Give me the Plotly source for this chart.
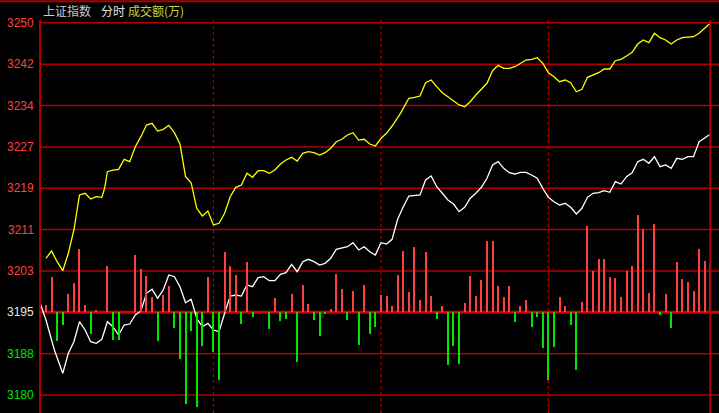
import plotly.graph_objects as go

# ---------------- data ----------------
# minutes since 9:30 for the white (index) line
white_min = [-2, 0, 3, 6, 8, 10, 12, 14, 16, 18, 20, 22, 24, 26, 28, 30, 32, 34, 36, 38,
             40, 42, 44, 46, 48, 50, 52, 54, 56, 58, 60, 62, 64, 66, 68, 70, 72, 74, 76, 78,
             80, 82, 84, 86, 88, 90, 92, 94, 96, 98, 100, 102, 104, 106, 108, 110, 112, 114,
             116, 118, 120, 122, 124, 125, 126, 128, 130, 134, 136, 138, 140, 142, 144, 146,
             148, 150, 152, 154, 156, 158, 160, 162, 164, 166, 168, 170, 172, 174, 176, 178,
             180, 182, 184, 186, 188, 190, 192, 194, 196, 198, 200, 202, 204, 206, 208, 210,
             212, 214, 216, 218, 220, 222, 224, 226, 228, 230, 232, 234, 236, 238]
white_val = [3196.97, 3193.95, 3188.29, 3183.89, 3187.67, 3189.85, 3193.63, 3192.06, 3189.85,
             3189.55, 3190.31, 3193.63, 3192.68, 3191.12, 3193.00, 3193.19, 3194.89, 3195.65,
             3198.98, 3199.74, 3198.04, 3199.61, 3202.44, 3202.12, 3200.23, 3197.21, 3197.85,
             3194.27, 3192.68, 3193.32, 3192.06, 3191.74, 3195.21, 3198.47, 3198.66, 3198.47,
             3200.55, 3200.23, 3201.93, 3202.12, 3201.36, 3201.36, 3202.57, 3202.87, 3204.45,
             3203.06, 3204.95, 3205.40, 3204.95, 3204.32, 3204.64, 3205.59, 3207.28, 3207.59,
             3207.77, 3208.53, 3207.15, 3207.77, 3206.83, 3206.21, 3208.53, 3208.28, 3209.17,
             3211.06, 3212.94, 3215.32, 3217.34, 3217.53, 3220.36, 3221.11, 3219.09, 3217.85,
             3216.58, 3215.83, 3214.38, 3215.21, 3216.91, 3217.85, 3218.98, 3220.68, 3223.19,
             3223.81, 3222.56, 3221.73, 3221.49, 3221.81, 3221.81, 3221.30, 3220.68, 3218.79,
             3217.09, 3216.26, 3215.64, 3215.96, 3215.21, 3213.94, 3215.02, 3217.09, 3217.85,
             3217.96, 3218.34, 3218.04, 3220.04, 3219.60, 3220.98, 3221.73, 3223.81, 3224.26,
             3223.51, 3224.75, 3222.87, 3223.19, 3222.56, 3224.45, 3224.26, 3224.75, 3224.75,
             3227.58, 3228.22, 3228.98]

# minutes since 9:30 for the yellow line
yellow_min = [0, 2, 4, 6, 8, 10, 12, 14, 16, 18, 20, 21, 22, 24, 26, 28, 30, 32, 34, 36, 38,
              40, 42, 44, 46, 48, 50, 52, 54, 56, 58, 60, 62, 64, 66, 68, 70, 72, 74, 76, 78,
              80, 82, 84, 86, 88, 90, 92, 94, 96, 98, 100, 102, 104, 106, 108, 110, 112, 114,
              116, 118, 120, 122, 124, 127, 130, 132, 134, 136, 138, 140, 142, 144, 146, 148,
              150, 152, 154, 156, 158, 160, 162, 164, 166, 168, 170, 172, 174, 176, 178, 180,
              182, 184, 186, 188, 190, 192, 194, 196, 198, 200, 202, 204, 206, 208, 210, 212,
              214, 216, 218, 220, 222, 224, 226, 228, 230, 232, 234, 236, 238]
yellow_val = [3205.59, 3206.96, 3204.95, 3203.25, 3206.53, 3210.93, 3217.53, 3217.85, 3216.77,
              3217.21, 3217.09, 3218.79, 3221.92, 3222.24, 3222.38, 3224.26, 3223.81, 3226.64,
              3228.53, 3230.73, 3231.05, 3229.60, 3229.92, 3230.68, 3229.28, 3227.15, 3220.98,
              3219.85, 3215.02, 3213.57, 3214.51, 3211.87, 3212.19, 3214.08, 3217.21, 3218.98,
              3219.41, 3221.62, 3220.87, 3222.11, 3222.11, 3221.62, 3222.24, 3223.38, 3224.13,
              3224.64, 3223.94, 3225.39, 3225.70, 3225.51, 3225.07, 3225.51, 3226.34, 3227.58,
              3228.04, 3228.85, 3229.28, 3227.90, 3228.04, 3227.15, 3226.77, 3228.20, 3229.17,
              3230.54, 3232.94, 3235.77, 3235.96, 3236.20, 3238.71, 3239.22, 3237.96, 3236.83,
              3236.07, 3235.32, 3234.51, 3234.18, 3235.13, 3236.39, 3237.47, 3238.60, 3240.98,
              3241.99, 3241.43, 3241.43, 3241.73, 3242.37, 3242.99, 3243.13, 3243.43, 3242.37,
              3240.60, 3239.84, 3238.90, 3239.22, 3238.71, 3237.01, 3237.47, 3239.73, 3240.16,
              3240.60, 3241.30, 3241.30, 3242.86, 3243.13, 3243.75, 3244.45, 3246.01, 3246.77,
              3246.26, 3248.03, 3247.20, 3246.77, 3246.01, 3246.77, 3247.20, 3247.28, 3247.39,
              3248.03, 3248.97, 3249.92]

# red / green strength bars, one every 2 minutes (positive = red, negative = green)
bar_val = [7, 35, -29, -13, 18, 29, 63, 7, -22, 2, 0, 46, -28, -28, 0, 0, 57, 43, 36, 15,
           -29, 17, 26, -16, -47, -92, -19, -95, -34, 35, -40, -68, 60, 46, 37, -12, 50, -5, 0, 0,
           -17, 14, -9, -7, 18, -50, 27, 8, -8, -24, -1, 3, 38, 23, -8, 21, -33, 27, -22, -15,
           17, 16, 6, 37, 61, 20, 65, 12, 60, 16, -7, 6, -53, -34, -52, 9, 36, 16, 32, 71,
           71, 26, 15, 26, -10, 6, 12, -15, -5, -36, -68, -35, 15, 6, -13, -58, 10, 86, 41, 53,
           53, 35, 34, 15, 41, 46, 97, 83, 19, 88, -3, 18, -16, 50, 33, 30, 21, 63, 51, 49]
bar_min = [2 * i for i in range(len(bar_val))]

# price axis
prev_close = 3195.4
tick_vals = [3250.0, 3242.2, 3234.4, 3226.6, 3218.8, 3211.0, 3203.2, 3195.4, 3187.6, 3179.8]
tick_text = ["3250", "3242", "3234", "3227", "3219", "3211", "3203", "3195", "3188", "3180"]
session_marks = [60, 120, 180]   # 10:30, 11:30/13:00, 14:00
last_min = 238

# ---------------- style ----------------
GRID = "rgb(176,0,0)"
RED_TXT = "rgb(255,64,64)"
GREEN = "rgb(0,230,0)"
RED_BAR = "rgb(255,64,64)"

fig = go.Figure()

bar_colors = [RED_BAR if v > 0 else GREEN for v in bar_val]
fig.add_trace(go.Bar(x=bar_min, y=bar_val, width=0.36, marker=dict(color=bar_colors, line=dict(width=0)),
                     yaxis="y2", hoverinfo="skip"))
fig.add_trace(go.Scatter(x=yellow_min, y=yellow_val, mode="lines",
                         line=dict(color="#ffff00", width=1.3), hoverinfo="skip"))
fig.add_trace(go.Scatter(x=white_min, y=white_val, mode="lines",
                         line=dict(color="#ffffff", width=1.3), hoverinfo="skip"))

shapes = []
for v in tick_vals:
    w = 3 if v == prev_close else 1.5
    c = "rgb(210,0,0)" if v == prev_close else GRID
    shapes.append(dict(type="line", xref="paper", yref="y", x0=0, x1=1, y0=v, y1=v,
                       line=dict(color=c, width=w), layer="below"))
for m in session_marks:
    shapes.append(dict(type="line", xref="x", yref="paper", x0=m, x1=m, y0=0, y1=1,
                       line=dict(color=GRID, width=1.2, dash="dot"), layer="below"))
# left border, right (last time) line, top frame
shapes.append(dict(type="line", xref="paper", yref="paper", x0=0, x1=0, y0=0, y1=1.0,
                   line=dict(color=GRID, width=2)))
shapes.append(dict(type="line", xref="x", yref="paper", x0=last_min, x1=last_min, y0=0, y1=1.0,
                   line=dict(color=GRID, width=2)))
shapes.append(dict(type="line", xref="paper", yref="paper", x0=-0.06, x1=1, y0=1.048, y1=1.048,
                   line=dict(color=GRID, width=2)))

annotations = []
for v, t in zip(tick_vals, tick_text):
    if v > prev_close:
        col = RED_TXT
    elif v < prev_close:
        col = GREEN
    else:
        col = "#e6e6e6"
    annotations.append(dict(x=0, xref="paper", y=v, yref="y", text=t, showarrow=False,
                            xanchor="right", xshift=-4, yanchor="middle",
                            font=dict(family="Liberation Sans, Arial", size=12, color=col)))

hdr_font = "Noto Sans CJK SC"
annotations.append(dict(x=0.002, xref="paper", y=1.024, yref="paper", text="上证指数", showarrow=False,
                        xanchor="left", yanchor="middle", font=dict(family=hdr_font, size=12, color="#c8c8c8")))
annotations.append(dict(x=0.087, xref="paper", y=1.024, yref="paper", text="分时", showarrow=False,
                        xanchor="left", yanchor="middle", font=dict(family=hdr_font, size=12, color="#e0e0e0")))
annotations.append(dict(x=0.127, xref="paper", y=1.024, yref="paper", text="成交额(万)", showarrow=False,
                        xanchor="left", yanchor="middle", font=dict(family=hdr_font, size=12, color="#d2d23c")))

plot_top_px = 20
y_top = prev_close + (312.3 - plot_top_px) / 5.301
y_bot = prev_close - (413 - 312.3) / 5.301

fig.update_layout(
    width=719, height=413,
    margin=dict(l=40, r=0, t=plot_top_px, b=0),
    paper_bgcolor="black", plot_bgcolor="black",
    showlegend=False, bargap=0,
    shapes=shapes, annotations=annotations,
    xaxis=dict(range=[-2.15, 241.13], visible=False, fixedrange=True),
    yaxis=dict(range=[y_bot, y_top], visible=False, fixedrange=True),
    yaxis2=dict(range=[-(413 - 312.3), 312.3 - plot_top_px], overlaying="y", visible=False, fixedrange=True),
    hovermode=False,
)

fig.write_html("out.html", config={"displayModeBar": False},
               post_script="document.body.style.margin='0';document.body.style.background='black';document.body.style.overflow='hidden';")
